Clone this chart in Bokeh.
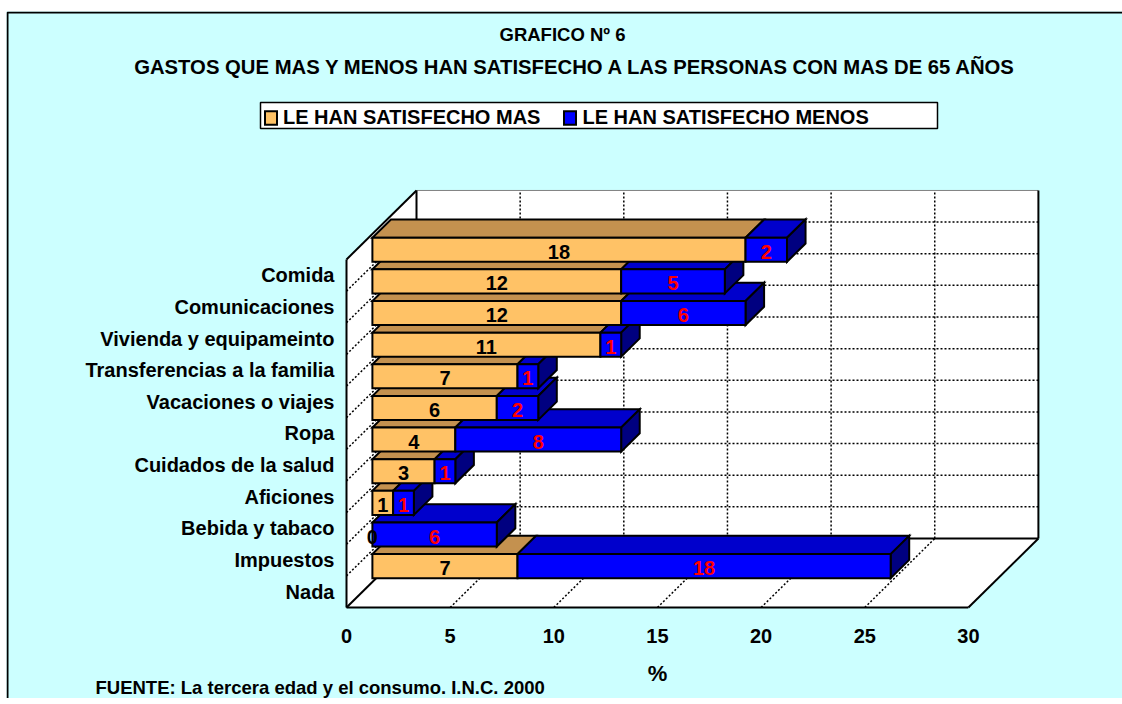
import numpy as np
from bokeh.plotting import figure
from bokeh.models import Range1d, Legend, LegendItem, Label
from bokeh.core.properties import value
from bokeh.embed import file_html
from bokeh.resources import INLINE

# ---------------- data ----------------
categories = ["Comida", "Comunicaciones", "Vivienda y equipameinto",
              "Transferencias a la familia", "Vacaciones o viajes", "Ropa",
              "Cuidados de la salud", "Aficiones", "Bebida y tabaco",
              "Impuestos", "Nada"]
satisfecho_mas = [18, 12, 12, 11, 7, 6, 4, 3, 1, 0, 7]
satisfecho_menos = [2, 5, 6, 1, 1, 2, 8, 1, 1, 6, 18]
x_ticks = [0, 5, 10, 15, 20, 25, 30]
series_names = ["LE HAN SATISFECHO MAS", "LE HAN SATISFECHO MENOS"]

title_1 = "GRAFICO Nº 6"
title_2 = "GASTOS QUE MAS Y MENOS HAN SATISFECHO A LAS PERSONAS CON MAS DE 65 AÑOS"
source_note = "FUENTE: La tercera edad y el consumo. I.N.C. 2000"
x_title = "%"

# ---------------- 3D look parameters ----------------
DX, DY = 3.377, 2.181      # depth of the box, in data units
F0, F1 = 0.37, 0.635       # bar front / back depth fraction
HALF = 0.38                # half bar height (category units)

# page-pixel <-> data helpers (layout only)
PX_X, PX_Y = 20.73, 31.64  # pixels per data unit
X0_PX, Y0_PX = 346, 607    # page position of data origin
CANVAS_L, CANVAS_R, CANVAS_T, CANVAS_B = 6, 1122, 11, 698


def dx(px):
    return (px - X0_PX) / PX_X


def dy(py):
    return (Y0_PX - py) / PX_Y


FONT = value("Liberation Sans")
BG = "#CCFFFF"
ORANGE = ("#FFC266", "#C4914F", "#A8783A")   # front, top, side
BLUE = ("#0000FF", "#0000CC", "#000080")

n = len(categories)
xmax = x_ticks[-1]


def proj(x, y, f):
    return x + f * DX, y + f * DY


def poly(pts):
    xs, ys = zip(*[proj(*p) for p in pts])
    return list(xs), list(ys)


p = figure(width=CANVAS_R - CANVAS_L, height=CANVAS_B - CANVAS_T,
           output_backend="svg", toolbar_location=None,
           x_range=Range1d(dx(CANVAS_L), dx(CANVAS_R)),
           y_range=Range1d(dy(CANVAS_B), dy(CANVAS_T)),
           x_axis_type=None, y_axis_type=None,
           min_border_left=0, min_border_right=0, min_border_top=0,
           min_border_bottom=0)
p.margin = (CANVAS_T, 0, 0, CANVAS_L)
p.background_fill_color = BG
p.border_fill_color = BG
p.outline_line_color = None

# outer frame of the chart area (left and top edges of the cyan box)
p.line([dx(CANVAS_R), dx(CANVAS_L + 1), dx(CANVAS_L + 1)],
       [dy(CANVAS_T + 1), dy(CANVAS_T + 1), dy(CANVAS_B)],
       line_color="black", line_width=2)

# ---------------- walls ----------------
walls = [
    [(0, 0, 0), (0, n, 0), (0, n, 1), (0, 0, 1)],              # left wall
    [(0, 0, 1), (xmax, 0, 1), (xmax, n, 1), (0, n, 1)],        # back wall
    [(0, 0, 0), (xmax, 0, 0), (xmax, 0, 1), (0, 0, 1)],        # floor
]
wx, wy = zip(*[poly(w) for w in walls])
p.patches(list(wx), list(wy), fill_color="white", line_color=None)

# dotted gridlines
gx, gy = [], []
for t in x_ticks[1:-1]:
    a, b = poly([(t, 0, 1), (t, n, 1)])
    gx.append(a); gy.append(b)
    a, b = poly([(t, 0, 0), (t, 0, 1)])
    gx.append(a); gy.append(b)
for j in range(1, n):
    a, b = poly([(0, j, 1), (xmax, j, 1)])
    gx.append(a); gy.append(b)
    a, b = poly([(0, j, 0), (0, j, 1)])
    gx.append(a); gy.append(b)
p.multi_line(gx, gy, line_color="black", line_width=1.5, line_dash="2 2")

# top edge of back wall (thin grey)
a, b = poly([(0, n, 1), (xmax, n, 1)])
p.line(a, b, line_color="#808080", line_width=1)

# solid edges
edges = [
    [(0, 0, 0), (0, n, 0)], [(0, n, 0), (0, n, 1)], [(0, 0, 1), (0, n, 1)],
    [(xmax, 0, 1), (xmax, n, 1)], [(0, 0, 0), (xmax, 0, 0)],
    [(xmax, 0, 0), (xmax, 0, 1)], [(0, 0, 1), (xmax, 0, 1)], [(0, 0, 0), (0, 0, 1)],
]
ex, ey = zip(*[poly(e) for e in edges])
p.multi_line(list(ex), list(ey), line_color="black", line_width=2)

# ---------------- bars ----------------
faces = {(k, part): ([], []) for k in ("o", "b") for part in ("front", "top", "side")}
lab_x_o, lab_y_o, lab_t_o = [], [], []
lab_x_b, lab_y_b, lab_t_b = [], [], []

for k in range(n):
    c = (n - 1 - k) + 0.5
    yb, yt = c - HALF, c + HALF
    m, l = satisfecho_mas[k], satisfecho_menos[k]
    segs = [("o", 0, m), ("b", m, m + l)]
    visible = [s for s in segs if s[2] > s[1]]
    for idx, (key, x0, x1) in enumerate(visible):
        front = poly([(x0, yb, F0), (x1, yb, F0), (x1, yt, F0), (x0, yt, F0)])
        top = poly([(x0, yt, F0), (x1, yt, F0), (x1, yt, F1), (x0, yt, F1)])
        faces[(key, "front")][0].append(front[0]); faces[(key, "front")][1].append(front[1])
        faces[(key, "top")][0].append(top[0]); faces[(key, "top")][1].append(top[1])
        if idx == len(visible) - 1:
            side = poly([(x1, yb, F0), (x1, yt, F0), (x1, yt, F1), (x1, yb, F1)])
            faces[(key, "side")][0].append(side[0]); faces[(key, "side")][1].append(side[1])
    lx, ly = proj(m / 2, c, F0)
    lab_x_o.append(lx); lab_y_o.append(ly); lab_t_o.append(str(m))
    lx, ly = proj(m + l / 2, c, F0)
    lab_x_b.append(lx); lab_y_b.append(ly); lab_t_b.append(str(l))

# legend frame (white box behind the legend items)
p.quad(left=[dx(260)], right=[dx(937)], bottom=[dy(128)], top=[dy(102)],
       fill_color="white", line_color="black", line_width=1.5)

colors = {"o": ORANGE, "b": BLUE}
renderers = {}
for part, ci in (("top", 1), ("side", 2), ("front", 0)):
    for key in ("o", "b"):
        xs, ys = faces[(key, part)]
        r = p.patches(xs, ys, fill_color=colors[key][ci], line_color="black",
                      line_width=2, line_join="miter")
        renderers[(key, part)] = r

TXT = dict(text_font=FONT, text_font_style="bold", text_font_size="20px")
p.text(lab_x_o, lab_y_o, text=lab_t_o, text_align="center", text_baseline="middle",
       text_color="black", y_offset=2, **TXT)
p.text(lab_x_b, lab_y_b, text=lab_t_b, text_align="center", text_baseline="middle",
       text_color="#FF0000", y_offset=2, **TXT)

# ---------------- axis texts (category labels and x tick labels) ----------------
ycat = [(n - 1 - k) + 0.5 for k in range(n)]
p.text([-0.58] * n, ycat, text=categories, text_align="right", text_baseline="middle",
       text_color="black", **TXT)
p.text(x_ticks, [-0.885] * len(x_ticks), text=[str(t) for t in x_ticks],
       text_align="center", text_baseline="middle", text_color="black", **TXT)

# ---------------- legend ----------------
legend = Legend(items=[LegendItem(label=series_names[0], renderers=[renderers[("o", "front")]]),
                       LegendItem(label=series_names[1], renderers=[renderers[("b", "front")]])],
                orientation="horizontal", location=(263 - CANVAS_L, CANVAS_B - 129),
                padding=2, spacing=22, glyph_width=15, glyph_height=17,
                label_standoff=5, label_height=20, margin=0, border_line_color=None,
                background_fill_alpha=0.0,
                label_text_font="Liberation Sans", label_text_font_style="bold",
                label_text_font_size="20px", label_text_color="black")
p.add_layout(legend)

# ---------------- titles / notes ----------------
def add_label(text, page_x, page_baseline, size, align="center"):
    p.add_layout(Label(x=page_x - CANVAS_L, y=CANVAS_B - page_baseline + 8,
                       x_units="screen", y_units="screen", text=text,
                       text_font="Liberation Sans", text_font_style="bold",
                       text_font_size=size, text_align=align,
                       text_baseline="alphabetic", text_color="black"))

add_label(title_1, 562, 42, "18.5px")
add_label(title_2, 575, 74, "20.3px")
add_label(x_title, 657, 681, "22px")
add_label(source_note, 95, 695, "18.5px", align="left")

open("out.html", "w").write(file_html(p, INLINE))
